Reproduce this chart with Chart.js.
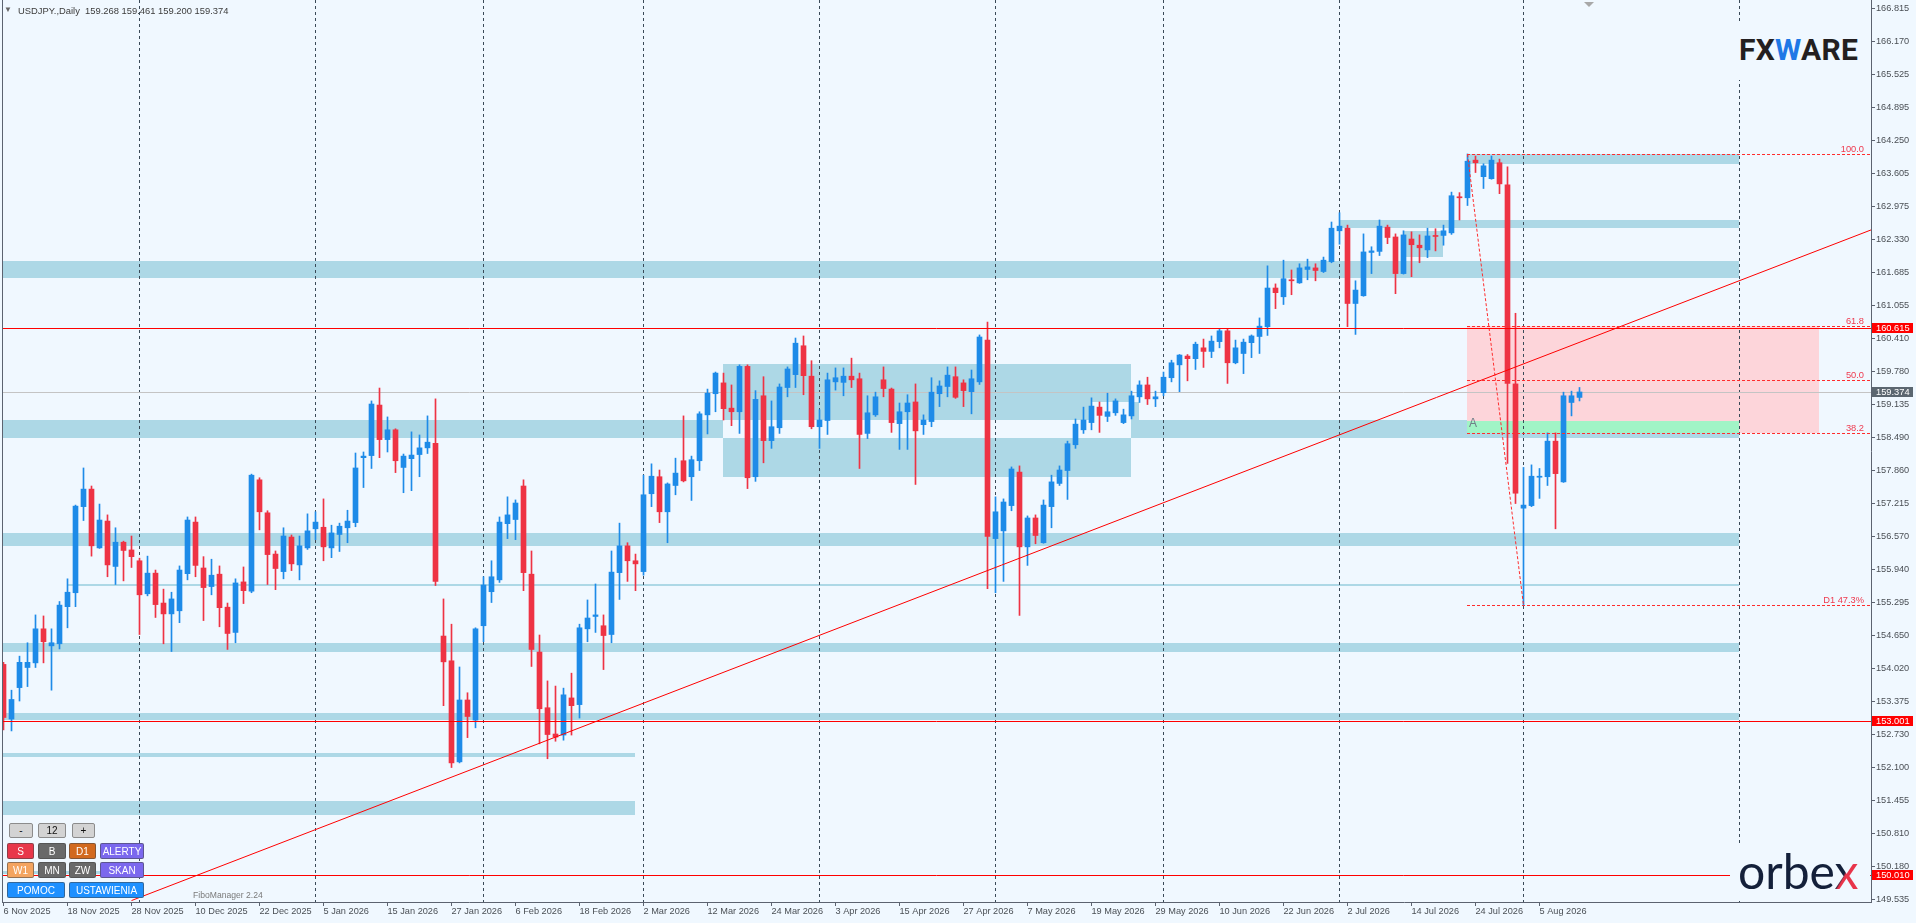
<!DOCTYPE html>
<html>
<head>
<meta charset="utf-8">
<title>USDJPY Daily</title>
<script src="https://cdn.jsdelivr.net/npm/chart.js@4.4.1/dist/chart.umd.min.js"></script>
<style>
  html, body { margin:0; padding:0; background:#F0F8FF; overflow:hidden; }
  #wrap { position:relative; width:1916px; height:923px; }
  #c { position:absolute; left:0; top:0; }
  .ov { position:absolute; font-family:"Liberation Sans", Arial, sans-serif; white-space:pre; }
  .btn { position:absolute; box-sizing:border-box; display:flex; align-items:center; justify-content:center;
         font:10px "Liberation Sans", Arial, sans-serif; color:#fff; border:1px solid rgba(70,70,70,0.55); border-radius:2px; }
  .btn.lt { background:#D3D3D3; color:#111; border-color:#8c8c8c; }
</style>
</head>
<body>
<div id="wrap">
  <canvas id="c" width="1916" height="923"></canvas>

  <div class="ov" style="left:4px; top:4px; font-size:8px; color:#666; line-height:12px;">▼</div>
  <div class="ov" id="hdr" style="left:18px; top:5px; font-size:9.4px; color:#3c3c3c; line-height:12px;"></div>

  <div class="ov" style="left:1584px; top:2px; width:0; height:0; border-left:5px solid transparent; border-right:5px solid transparent; border-top:5px solid #A8A8A8;"></div>

  <div class="ov" style="left:1730px; top:23px; width:136px; height:57px; background:#F0F8FF;"></div>
  <div class="ov" style="left:1739px; top:35px; font:700 30px Roboto, sans-serif; line-height:30px; color:#231F20; letter-spacing:0.3px;">FX<span style="color:#1E78E6">W</span>ARE</div>

  <div class="ov" style="left:1730px; top:845px; width:140px; height:56px; background:#F0F8FF;"></div>
  <div class="ov" style="left:1738px; top:847px; font:400 48px Lato, sans-serif; line-height:48px; color:#14203A;">orbe<span style="background:linear-gradient(120deg,#14203A 48%,#E8344A 52%); -webkit-background-clip:text; background-clip:text; color:transparent;">x</span></div>

  <div class="btn lt" style="left:9px; top:823px; width:24px; height:15px;">-</div>
  <div class="btn lt" style="left:38px; top:823px; width:28px; height:15px;">12</div>
  <div class="btn lt" style="left:72px; top:823px; width:23px; height:15px;">+</div>

  <div class="btn" style="left:7px; top:843px; width:27px; height:16px; background:#E8374A;">S</div>
  <div class="btn" style="left:38px; top:843px; width:28px; height:16px; background:#696969;">B</div>
  <div class="btn" style="left:69px; top:843px; width:27px; height:16px; background:#D2691E;">D1</div>
  <div class="btn" style="left:100px; top:843px; width:44px; height:16px; background:#7B68EE;">ALERTY</div>

  <div class="btn" style="left:7px; top:862px; width:27px; height:16px; background:#F4A460;">W1</div>
  <div class="btn" style="left:38px; top:862px; width:28px; height:16px; background:#696969;">MN</div>
  <div class="btn" style="left:69px; top:862px; width:27px; height:16px; background:#696969;">ZW</div>
  <div class="btn" style="left:100px; top:862px; width:44px; height:16px; background:#7B68EE;">SKAN</div>

  <div class="btn" style="left:7px; top:882px; width:58px; height:16px; background:#1E90FF;">POMOC</div>
  <div class="btn" style="left:69px; top:882px; width:75px; height:16px; background:#1E90FF;">USTAWIENIA</div>

  <div class="ov" style="left:193px; top:889px; font-size:8.6px; color:#7a7a7a; line-height:12px;">FiboManager 2.24</div>
</div>

<script>
// ---------------- DATA ----------------
const symbolName = 'USDJPY.,Daily';

const dateLabels = ['6 Nov 2025','18 Nov 2025','28 Nov 2025','10 Dec 2025','22 Dec 2025','5 Jan 2026',
  '15 Jan 2026','27 Jan 2026','6 Feb 2026','18 Feb 2026','2 Mar 2026','12 Mar 2026','24 Mar 2026',
  '3 Apr 2026','15 Apr 2026','27 Apr 2026','7 May 2026','19 May 2026','29 May 2026','10 Jun 2026',
  '22 Jun 2026','2 Jul 2026','14 Jul 2026','24 Jul 2026','5 Aug 2026'];

const priceTicks = [166.815,166.170,165.525,164.895,164.250,163.605,162.975,162.330,161.685,161.055,
  160.410,159.780,159.135,158.490,157.860,157.215,156.570,155.940,155.295,154.650,154.020,153.375,
  152.730,152.100,151.455,150.810,150.180,149.535];

const opens = [
 154.09,153.03,153.64,154.03,154.12,154.78,154.45,154.49,155.21,155.48,
 157.15,157.49,156.35,156.87,155.99,156.46,156.31,156.10,155.46,155.86,
 155.28,155.07,155.13,155.85,156.85,155.96,155.60,155.84,155.20,154.71,
 155.69,155.51,157.67,157.03,156.23,155.89,156.56,156.02,156.35,156.72,
 156.75,156.35,156.61,156.74,156.84,158.10,158.14,159.12,158.45,158.64,
 157.91,158.08,158.16,158.29,158.38,154.64,154.16,152.20,153.40,153.01,
 154.84,155.50,155.73,156.82,156.90,157.55,155.84,154.33,153.25,152.74,
 152.72,153.44,153.31,154.78,155.02,154.84,154.67,155.87,156.39,156.10,
 155.89,157.40,157.73,157.05,157.56,158.04,157.73,158.04,158.93,159.34,
 159.55,159.06,158.99,159.87,157.73,159.30,158.43,158.68,159.46,159.71,
 160.27,159.68,158.70,158.82,159.57,159.56,159.68,159.63,158.57,158.93,
 159.61,159.43,158.76,158.99,159.18,158.74,158.80,159.34,159.48,159.67,
 159.55,159.38,159.57,160.38,156.53,156.68,157.17,157.82,156.37,156.93,
 156.45,157.15,157.60,157.85,158.35,158.64,158.78,159.08,158.90,158.97,
 158.78,158.91,159.28,159.51,159.24,159.36,159.65,159.90,160.07,160.02,
 160.23,160.16,160.35,160.56,159.94,160.12,160.33,160.45,160.64,161.39,
 161.22,161.55,161.49,161.75,161.78,161.71,161.90,162.50,162.55,161.09,
 161.24,162.08,162.10,162.57,162.38,161.67,162.34,162.22,162.13,162.40,
 162.41,162.46,163.16,163.14,163.87,163.55,163.51,163.82,163.39,159.53,
 157.12,157.17,157.72,157.73,158.42,157.63,159.17,159.268];

const highs = [
 154.13,153.59,154.25,154.51,155.05,155.03,154.78,155.31,155.75,157.18,
 157.90,157.55,157.20,156.99,156.74,156.48,156.58,156.15,156.19,155.92,
 155.55,155.49,156.00,156.95,156.95,156.18,156.13,156.00,155.28,155.75,
 155.98,157.78,157.71,157.07,156.29,156.74,156.60,156.58,157.01,157.05,
 157.30,156.79,156.83,157.08,158.19,158.21,159.20,159.45,158.89,158.66,
 158.17,158.60,158.54,158.91,159.24,155.36,154.87,154.04,153.54,154.80,
 155.79,156.10,156.95,157.34,157.28,157.67,156.29,154.66,153.77,153.67,
 153.63,153.92,154.87,155.34,155.65,155.05,156.29,156.83,156.45,156.23,
 157.76,157.98,157.86,157.61,158.09,158.91,158.13,158.99,159.43,159.76,
 159.74,159.51,159.90,159.90,159.40,159.67,159.20,159.53,159.86,160.42,
 160.46,159.98,159.03,159.74,159.84,159.84,160.03,159.74,159.30,159.37,
 159.86,159.45,159.16,159.32,159.53,158.93,159.65,159.59,159.86,159.86,
 159.61,159.80,160.48,160.73,157.34,157.30,157.92,157.94,156.97,156.99,
 157.28,157.76,157.94,158.42,158.85,159.08,159.26,159.18,159.35,159.24,
 159.04,159.39,159.59,159.66,159.39,159.76,159.99,160.10,160.10,160.34,
 160.40,160.46,160.60,160.60,160.38,160.40,160.48,160.81,161.82,161.47,
 161.93,161.74,161.86,161.95,161.86,161.99,162.67,162.85,162.61,161.53,
 162.44,162.19,162.71,162.61,162.44,162.50,162.48,162.42,162.55,162.54,
 162.61,163.25,163.24,163.99,163.95,163.80,163.95,163.89,163.74,160.90,
 157.91,157.96,157.89,158.58,158.58,159.37,159.39,159.461];

const lows = [
 152.82,152.80,153.38,153.66,154.03,154.12,153.59,154.39,154.80,155.21,
 156.88,156.19,156.34,155.79,155.64,155.71,155.97,154.67,155.42,155.00,
 154.49,154.34,154.90,155.73,155.79,154.94,155.44,154.82,154.38,154.51,
 155.27,155.48,156.70,155.64,155.54,155.75,155.91,155.73,156.32,156.51,
 156.10,156.16,156.28,156.45,156.76,157.52,157.89,158.10,158.21,157.81,
 157.42,157.46,157.73,158.18,155.62,153.29,152.09,152.18,152.67,152.86,
 154.53,155.29,155.68,156.53,156.51,155.52,154.05,152.55,152.26,152.60,
 152.62,152.72,153.05,154.53,154.71,153.99,154.51,155.35,155.70,155.52,
 155.82,157.15,156.84,156.45,157.38,157.63,157.27,157.85,158.56,158.99,
 158.83,158.72,158.57,157.50,157.64,158.00,158.28,158.57,159.28,159.46,
 159.32,158.66,158.28,158.55,159.41,159.30,159.46,157.89,158.47,158.90,
 159.28,158.59,158.26,158.26,157.58,158.55,158.70,159.09,159.28,159.25,
 159.09,158.95,159.52,155.56,155.48,155.70,157.07,155.04,156.01,156.43,
 156.44,156.74,157.56,157.29,158.28,158.57,158.64,158.59,158.80,158.92,
 158.76,158.85,159.17,159.13,159.09,159.30,159.57,159.38,159.59,159.81,
 159.85,160.04,160.23,159.54,159.92,159.73,160.04,160.12,160.47,160.99,
 161.07,161.26,161.48,161.55,161.53,161.69,161.88,162.24,160.64,160.49,
 161.23,161.67,162.02,162.25,161.28,161.66,161.61,161.88,161.98,162.11,
 162.22,162.43,162.71,162.99,163.63,163.32,163.50,163.22,157.99,157.21,
 155.24,157.15,157.31,157.56,156.72,157.62,158.91,159.200];

const closes = [
 153.06,153.41,154.13,154.13,154.78,154.53,154.51,155.24,155.49,157.16,
 157.49,156.39,156.89,156.02,156.46,156.30,156.18,155.44,155.86,155.25,
 155.07,155.36,155.92,156.89,156.01,155.58,155.82,155.19,154.69,155.67,
 155.52,157.76,157.05,156.22,155.95,156.58,156.04,156.39,156.68,156.85,
 156.37,156.64,156.77,156.87,157.90,158.13,159.14,158.45,158.64,158.04,
 158.13,158.15,158.29,158.40,155.70,154.14,152.18,153.40,153.08,154.78,
 155.63,155.79,156.85,156.99,157.22,155.87,154.38,153.23,152.73,152.68,
 153.50,153.29,154.80,154.99,155.05,154.65,155.88,156.39,156.10,156.04,
 157.38,157.74,157.05,157.59,157.80,157.65,158.06,158.95,159.35,159.74,
 159.05,158.99,159.87,157.71,159.23,158.43,158.70,159.47,159.82,160.32,
 159.69,158.70,158.83,159.61,159.65,159.68,159.61,158.55,158.97,159.28,
 159.44,158.78,158.99,159.16,158.62,158.83,159.37,159.49,159.70,159.27,
 159.40,159.63,160.44,156.57,157.05,157.24,157.88,156.37,156.93,156.59,
 157.18,157.63,157.86,158.37,158.75,158.83,159.10,158.92,158.99,159.20,
 158.93,159.30,159.51,159.24,159.28,159.66,159.94,160.09,160.02,160.30,
 160.16,160.36,160.56,159.94,160.23,160.34,160.46,160.65,161.39,161.30,
 161.57,161.53,161.78,161.80,161.73,161.93,162.55,162.59,161.09,161.35,
 162.09,162.11,162.59,162.37,161.67,162.42,162.23,162.17,162.40,162.39,
 162.50,163.18,163.14,163.85,163.82,163.76,163.87,163.41,159.54,157.41,
 157.18,157.74,157.74,158.42,157.79,159.30,159.30,159.374];

// support / resistance zones (bar index from..to, price top..bottom)
const zoneFrom = [-1, -1, -1, 8, -1, -1, -1, -1, 90, 136, 167, 175, 183, -1];
const zoneTo   = [217, 217, 217, 217, 217, 217, 79, 79, 141, 142, 217, 180, 217, 17];
const zoneTop  = [161.914,158.830,156.633,155.650,154.505,153.147,152.370,151.440,159.917,159.180,162.709,162.496,163.983,150.090];
const zoneBot  = [161.590,158.481,156.387,155.610,154.331,153.012,152.290,151.160,157.730,158.830,162.554,161.998,163.790,150.020];

// month separators (bar index of first bar of each month) + vertical line
const monthStartIdx = [17, 39, 60, 80, 102, 124, 145, 167, 190, 217];

// horizontal price levels
const redLevels = [160.615, 153.001, 150.010];

// fibonacci
const fibStartIdx = 183;
const fibLabels = ['100.0', '61.8', '50.0', '38.2', 'D1 47.3%'];
const fibValues = [163.983, 160.650, 159.610, 158.572, 155.236];
const fibZoneEndIdx = 227;     // pink zone end
const fibGreenEndIdx = 217;    // green zone end
const greenTop = 158.810;

// trend line and zigzag (bar index / price)
const trendX = [16, 233.5];
const trendY = [149.51, 162.52];
const zigX = [183, 190];
const zigY = [163.983, 155.236];

// ---------------- STYLE ----------------
const BG = '#F0F8FF', ZONE = '#ADD8E6', BULL = '#1E8BE8', BEAR = '#EE3344';
const AXIS = '#5C6370', TXT = '#4A4F55', SEP = '#3A4A58', FIB = '#FF2D2D', FIBTXT = '#EE3B50';
const FONT = '"Liberation Sans", Arial, sans-serif';
const X_MIN = -0.1875, X_MAX = 233.4375, Y_MAX = 166.976, Y_MIN = 149.482;

const n = opens.length;
document.getElementById('hdr').textContent =
  symbolName + '  ' + [opens[n-1], highs[n-1], lows[n-1], closes[n-1]].map(v => v.toFixed(3)).join(' ');

const idx = opens.map((_, i) => i);
const colors = idx.map(i => closes[i] >= opens[i] ? BULL : BEAR);
const wickData = idx.map(i => ({ x: i, y: [lows[i], highs[i]] }));
const bodyData = idx.map(i => ({ x: i, y: [Math.min(opens[i], closes[i]), Math.max(opens[i], closes[i])] }));

const mt4Plugin = {
  id: 'mt4',
  beforeDraw(chart) {
    const c = chart.ctx;
    c.save(); c.fillStyle = BG; c.fillRect(0, 0, chart.width, chart.height); c.restore();
  },
  beforeDatasetsDraw(chart) {
    const { ctx, chartArea: a, scales: { x, y } } = chart;
    const dpr = chart.currentDevicePixelRatio || 1;
    const off = document.createElement('canvas');
    off.width = Math.round(chart.width * dpr);
    off.height = Math.round(chart.height * dpr);
    const o = off.getContext('2d');
    o.setTransform(dpr, 0, 0, dpr, 0, 0);
    o.globalCompositeOperation = 'xor';
    o.fillStyle = ZONE;
    for (let k = 0; k < zoneFrom.length; k++) {
      const x1 = Math.max(a.left, Math.floor(x.getPixelForValue(zoneFrom[k])));
      const x2 = Math.min(a.right, Math.floor(x.getPixelForValue(zoneTo[k])));
      const y1 = Math.round(y.getPixelForValue(zoneTop[k]));
      const y2 = Math.round(y.getPixelForValue(zoneBot[k]));
      o.fillRect(x1, y1, x2 - x1, Math.max(2, y2 - y1));
    }
    ctx.save();
    ctx.beginPath(); ctx.rect(a.left, a.top, a.right - a.left, a.bottom - a.top); ctx.clip();
    ctx.drawImage(off, 0, 0, chart.width, chart.height);

    // fib pink zone
    const fx1 = Math.floor(x.getPixelForValue(fibStartIdx));
    const fx2 = Math.floor(x.getPixelForValue(fibZoneEndIdx));
    const py1 = Math.round(y.getPixelForValue(fibValues[1]));
    const py2 = Math.round(y.getPixelForValue(fibValues[3]));
    ctx.fillStyle = '#FDD5DA';
    ctx.fillRect(fx1, py1, fx2 - fx1, py2 - py1);
    // green zone
    const gx2 = Math.floor(x.getPixelForValue(fibGreenEndIdx));
    const gy1 = Math.round(y.getPixelForValue(greenTop));
    ctx.fillStyle = '#A1F4C6';
    ctx.fillRect(fx1, gy1, gx2 - fx1, py2 - gy1);

    // separators
    ctx.strokeStyle = SEP; ctx.lineWidth = 1; ctx.setLineDash([3, 3]);
    for (const i of monthStartIdx) {
      const px = Math.floor(x.getPixelForValue(i)) + 0.5;
      ctx.beginPath(); ctx.moveTo(px, a.top); ctx.lineTo(px, a.bottom); ctx.stroke();
    }
    ctx.setLineDash([]);

    // bid line
    const by = Math.round(y.getPixelForValue(closes[n - 1])) + 0.5;
    ctx.strokeStyle = '#C4C4C4';
    ctx.beginPath(); ctx.moveTo(a.left, by); ctx.lineTo(a.right, by); ctx.stroke();
    ctx.restore();
  },
  afterDatasetsDraw(chart) {
    const { ctx, chartArea: a, scales: { x, y } } = chart;
    ctx.save();
    ctx.beginPath(); ctx.rect(a.left, a.top, a.right - a.left, a.bottom - a.top); ctx.clip();
    ctx.lineWidth = 1;
    ctx.strokeStyle = '#FF0000';
    for (const v of redLevels) {
      const py = Math.round(y.getPixelForValue(v)) + 0.5;
      ctx.beginPath(); ctx.moveTo(a.left, py); ctx.lineTo(a.right, py); ctx.stroke();
    }
    const fx = Math.floor(x.getPixelForValue(fibStartIdx));
    ctx.strokeStyle = FIB; ctx.setLineDash([3, 2]);
    for (const v of fibValues) {
      const py = Math.round(y.getPixelForValue(v)) + 0.5;
      ctx.beginPath(); ctx.moveTo(fx, py); ctx.lineTo(a.right, py); ctx.stroke();
    }
    ctx.setLineDash([]);
    ctx.font = '9.3px ' + FONT;
    ctx.fillStyle = FIBTXT; ctx.textAlign = 'right'; ctx.textBaseline = 'alphabetic';
    fibValues.forEach((v, k) => {
      const py = Math.round(y.getPixelForValue(v));
      ctx.fillText(fibLabels[k], a.right - 7, py - 2);
    });
    ctx.font = '12px ' + FONT;
    ctx.fillStyle = '#6F7F88'; ctx.textAlign = 'left'; ctx.textBaseline = 'middle';
    ctx.fillText('A', fx + 2, y.getPixelForValue(158.75));
    ctx.restore();

    // left border
    ctx.save();
    ctx.strokeStyle = AXIS; ctx.lineWidth = 1;
    ctx.beginPath(); ctx.moveTo(a.left + 0.5, a.top); ctx.lineTo(a.left + 0.5, a.bottom); ctx.stroke();

    // price boxes on axis
    ctx.font = '9.3px ' + FONT; ctx.textAlign = 'left'; ctx.textBaseline = 'middle';
    const box = (v, bg) => {
      const py = Math.round(y.getPixelForValue(v));
      ctx.fillStyle = bg; ctx.fillRect(a.right + 1, py - 5, 41, 10);
      ctx.fillStyle = '#FFFFFF'; ctx.fillText(v.toFixed(3), a.right + 5, py + 0.5);
    };
    for (const v of redLevels) box(v, '#FF0000');
    box(closes[n - 1], '#5B6670');
    ctx.restore();
  }
};

Chart.defaults.font.family = FONT;

new Chart(document.getElementById('c'), {
  type: 'bar',
  data: {
    datasets: [
      { type: 'line', data: trendX.map((v, k) => ({ x: v, y: trendY[k] })), borderColor: '#FF0000', borderWidth: 1,
        pointRadius: 0, fill: false, tension: 0, order: 0 },
      { type: 'line', data: zigX.map((v, k) => ({ x: v, y: zigY[k] })), borderColor: FIB, borderWidth: 1,
        borderDash: [3, 2], pointRadius: 0, fill: false, tension: 0, order: 0 },
      { type: 'bar', data: bodyData, backgroundColor: colors, borderWidth: 0, barThickness: 5,
        minBarLength: 1, grouped: false, order: 1 },
      { type: 'bar', data: wickData, backgroundColor: colors, borderWidth: 0, barThickness: 1,
        minBarLength: 1, grouped: false, order: 2 }
    ]
  },
  options: {
    responsive: false,
    animation: false,
    events: [],
    layout: { padding: { left: 2, top: 0, right: 0, bottom: 0 } },
    plugins: { legend: { display: false }, tooltip: { enabled: false } },
    scales: {
      x: {
        type: 'linear', min: X_MIN, max: X_MAX, offset: false,
        afterBuildTicks: s => { s.ticks = dateLabels.map((_, k) => ({ value: k * 8 })); },
        afterFit: s => { s.height = 21; s.paddingLeft = 0; s.paddingRight = 0; },
        ticks: { autoSkip: false, maxRotation: 0, minRotation: 0, align: 'start', padding: 0,
                 color: TXT, font: { size: 9.2 }, callback: (v, i) => dateLabels[i] },
        grid: { display: true, drawOnChartArea: false, drawTicks: true, tickLength: 4, color: AXIS, offset: false },
        border: { display: true, color: AXIS, width: 1 }
      },
      y: {
        type: 'linear', position: 'right', min: Y_MIN, max: Y_MAX,
        afterBuildTicks: s => { s.ticks = priceTicks.map(v => ({ value: v })); },
        afterFit: s => { s.width = 45; s.paddingTop = 0; s.paddingBottom = 0; },
        ticks: { autoSkip: false, padding: 1, color: TXT, font: { size: 9.2 }, callback: v => Number(v).toFixed(3) },
        grid: { display: true, drawOnChartArea: false, drawTicks: true, tickLength: 4, color: AXIS },
        border: { display: true, color: AXIS, width: 1 }
      }
    }
  },
  plugins: [mt4Plugin]
});
</script>
</body>
</html>
